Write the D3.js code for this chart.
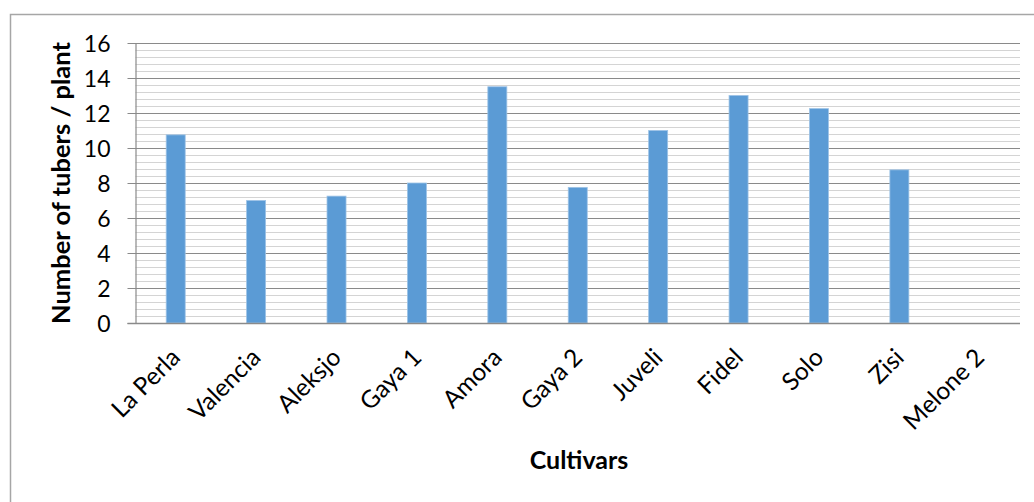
<!DOCTYPE html>
<html><head><meta charset="utf-8">
<script src="https://cdn.jsdelivr.net/npm/d3@7"></script>
<style>body{margin:0;background:#fff}svg{display:block}</style>
</head><body>
<svg id="c" width="1034" height="502"></svg>
<script>
const categories = ["La Perla","Valencia","Aleksjo","Gaya 1","Amora","Gaya 2","Juveli","Fidel","Solo","Zisi","Melone 2"];
const values = [10.75, 7, 7.25, 8, 13.5, 7.75, 11, 13, 12.25, 8.75, 0];
const yTicks = [0,2,4,6,8,10,12,14,16];
const minorTicks = d3.range(0, 16.001, 0.4);

const svg = d3.select("#c");
const W=1034,H=502;
const m = {l:135.5, r:1020, t:43, b:323};
const font = "Lato, 'Open Sans', sans-serif";

svg.append("rect").attr("x",10.5).attr("y",14.5).attr("width",W).attr("height",H)
  .attr("fill","#fff").attr("stroke","#a6a6a6").attr("stroke-width",1.5);

const x = d3.scaleBand().domain(categories).range([m.l,m.r]).paddingInner(0).paddingOuter(0);
const y = d3.scaleLinear().domain([0,16]).range([m.b,m.t]);

// minor gridlines
svg.append("g").selectAll("line").data(minorTicks).join("line")
  .attr("x1",m.l).attr("x2",m.r).attr("y1",d=>Math.round(y(d))+0.5).attr("y2",d=>Math.round(y(d))+0.5)
  .attr("stroke","#d4d4d4").attr("stroke-width",1.2);
// major gridlines
svg.append("g").selectAll("line").data(yTicks).join("line")
  .attr("x1",m.l-8).attr("x2",m.r).attr("y1",d=>Math.round(y(d))+0.5).attr("y2",d=>Math.round(y(d))+0.5)
  .attr("stroke","#8a8a8a").attr("stroke-width",1.2);

// y axis
const yAxis = d3.axisLeft(y).tickValues(yTicks).tickSize(0).tickPadding(0).tickFormat(d3.format("d"));
const ga = svg.append("g").attr("transform",`translate(${m.l-25},0)`).call(yAxis);
ga.select(".domain").remove();
ga.selectAll("text").attr("font-family",font).attr("font-size",23).attr("fill","#000").attr("dy","0.36em");
svg.append("line").attr("x1",m.l+0.5).attr("x2",m.l+0.5).attr("y1",m.t).attr("y2",m.b+0.5)
  .attr("stroke","#8a8a8a").attr("stroke-width",1.2);

// bars
const bw = 19;
svg.append("g").selectAll("rect").data(values).join("rect")
  .attr("x",(d,i)=>x(categories[i])+x.bandwidth()/2-bw/2)
  .attr("y",d=>y(d)).attr("width",bw).attr("height",d=>y(0)-y(d))
  .attr("fill","#5b9bd5").attr("stroke","#9dc3e6").attr("stroke-width",0.8);

// x axis
const xAxis = d3.axisBottom(x).tickSize(0).tickPadding(0);
const gx = svg.append("g").attr("transform",`translate(0,${m.b})`).call(xAxis);
gx.select(".domain").remove();
gx.selectAll("text").attr("font-family",font).attr("font-size",24.5).attr("fill","#000")
  .attr("text-anchor","end").attr("dy",null)
  .attr("transform","translate(6,36) rotate(-45)");
svg.append("line").attr("x1",m.l-8).attr("x2",m.r).attr("y1",m.b+0.5).attr("y2",m.b+0.5)
  .attr("stroke","#8a8a8a").attr("stroke-width",1.5);

// titles
svg.append("text").attr("x",579).attr("y",469).attr("text-anchor","middle")
  .attr("font-family",font).attr("font-weight","bold").attr("font-size",25).text("Cultivars");
svg.append("text").attr("transform",`translate(70,${(m.t+m.b)/2}) rotate(-90)`).attr("text-anchor","middle")
  .attr("font-family",font).attr("font-weight","bold").attr("font-size",25.5).text("Number of tubers / plant");
</script>
</body></html>
